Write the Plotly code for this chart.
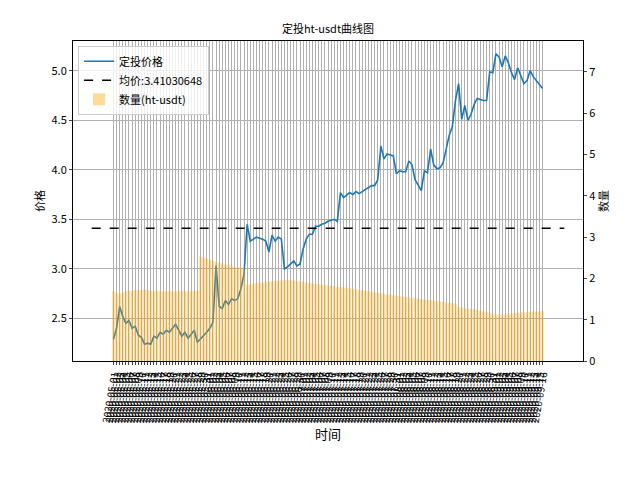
import plotly.graph_objects as go
import datetime

price = [2.29,2.40,2.62,2.52,2.45,2.48,2.40,2.42,2.33,2.31,2.24,2.25,2.24,2.32,2.30,2.36,2.34,2.38,2.36,2.40,
         2.44,2.38,2.32,2.36,2.30,2.34,2.38,2.26,2.29,2.33,2.36,2.40,2.46,3.03,2.62,2.60,2.68,2.64,2.70,2.68,
         2.70,2.80,2.95,3.45,3.28,3.30,3.32,3.31,3.30,3.28,3.17,3.34,3.28,3.32,3.30,3.00,3.02,3.05,3.08,3.03,
         3.05,3.20,3.30,3.35,3.35,3.43,3.43,3.45,3.46,3.48,3.49,3.50,3.48,3.77,3.72,3.75,3.77,3.75,3.78,3.76,
         3.78,3.80,3.82,3.84,3.84,3.90,4.24,4.11,4.16,4.15,4.14,3.96,3.99,3.98,3.98,4.09,4.05,3.90,3.85,3.79,
         3.99,3.97,4.21,4.05,4.01,4.02,4.07,4.20,4.35,4.44,4.70,4.87,4.51,4.65,4.50,4.56,4.66,4.72,4.71,4.70,
         4.70,4.99,4.98,5.17,5.14,5.04,5.15,5.08,4.98,4.91,5.03,4.95,4.87,4.90,5.00,4.94,4.90,4.86,4.82]
qty = [1.69,1.66,1.63,1.66,1.69,1.70,1.70,1.72,1.71,1.72,1.73,1.72,1.70,1.69,1.70,1.69,1.68,1.69,1.70,1.69,
       1.68,1.70,1.69,1.69,1.70,1.70,1.69,1.70,2.53,2.50,2.48,2.45,2.42,2.40,2.38,2.36,2.34,2.32,2.30,2.28,
       2.27,2.26,2.25,1.85,1.86,1.88,1.88,1.90,1.90,1.92,1.92,1.93,1.94,1.95,1.95,1.96,1.97,1.96,1.95,1.94,
       1.93,1.92,1.90,1.89,1.88,1.87,1.86,1.85,1.84,1.83,1.82,1.81,1.80,1.79,1.78,1.77,1.76,1.75,1.74,1.72,
       1.71,1.70,1.69,1.68,1.66,1.65,1.64,1.62,1.61,1.60,1.59,1.58,1.57,1.56,1.55,1.54,1.53,1.52,1.51,1.50,
       1.49,1.48,1.47,1.46,1.45,1.44,1.43,1.42,1.41,1.40,1.38,1.30,1.29,1.28,1.27,1.26,1.25,1.24,1.22,1.20,
       1.18,1.16,1.14,1.13,1.12,1.12,1.13,1.14,1.15,1.16,1.17,1.18,1.18,1.19,1.19,1.20,1.20,1.20,1.21]
avg = 3.41030648
start = datetime.date(2020, 5, 1)
dates = [(start + datetime.timedelta(days=i)).isoformat() for i in range(len(price))]
idx = list(range(len(price)))
font = "Noto Sans CJK SC"

fig = go.Figure()
fig.add_trace(go.Scatter(x=idx, y=price, mode="lines", name="定投价格", line=dict(color="#1f77b4", width=1.6)))
fig.add_trace(go.Scatter(x=[-7, len(price) + 6], y=[avg, avg], mode="lines", name="均价:3.41030648",
                         line=dict(color="black", dash="dash", width=1.6)))
fig.add_trace(go.Bar(x=idx, y=qty, yaxis="y2", name="数量(ht-usdt)", marker_color="orange",
                     opacity=0.4, width=0.8, marker_line_width=0))
fig.update_layout(
    width=640, height=480, paper_bgcolor="white", plot_bgcolor="white",
    margin=dict(l=65, r=65, t=33, b=127),
    font=dict(family=font, size=11, color="black"),
    title=dict(text="定投ht-usdt曲线图", x=0.5, y=0.965, xanchor="center", font=dict(size=11)),
    xaxis=dict(range=[-13, len(price) + 12], tickvals=idx, ticktext=dates, tickangle=-80, automargin=False,
               tickfont=dict(size=10), showgrid=True, gridcolor="#b0b0b0", showline=True, mirror=True,
               linecolor="black", ticks="outside", ticklen=3, title=dict(text="时间", standoff=2)),
    yaxis=dict(range=[2.07, 5.3], tickvals=[2.5, 3.0, 3.5, 4.0, 4.5, 5.0], tickformat=".1f", automargin=False,
               showgrid=True, gridcolor="#b0b0b0", showline=True, linecolor="black", ticks="outside",
               ticklen=3, title=dict(text="价格", standoff=4, font=dict(size=11)), zeroline=False),
    yaxis2=dict(range=[0, 7.75], overlaying="y", side="right", dtick=1, showgrid=False, showline=True,
                automargin=False, linecolor="black", ticks="outside", ticklen=3,
                title=dict(text="数量", standoff=2, font=dict(size=11)), zeroline=False),
    legend=dict(x=0.01, y=0.985, xanchor="left", yanchor="top", bgcolor="rgba(255,255,255,0.8)",
                bordercolor="#cccccc", borderwidth=1, font=dict(size=11), traceorder="normal"),
    showlegend=True,
)
fig.write_html("out.html")
